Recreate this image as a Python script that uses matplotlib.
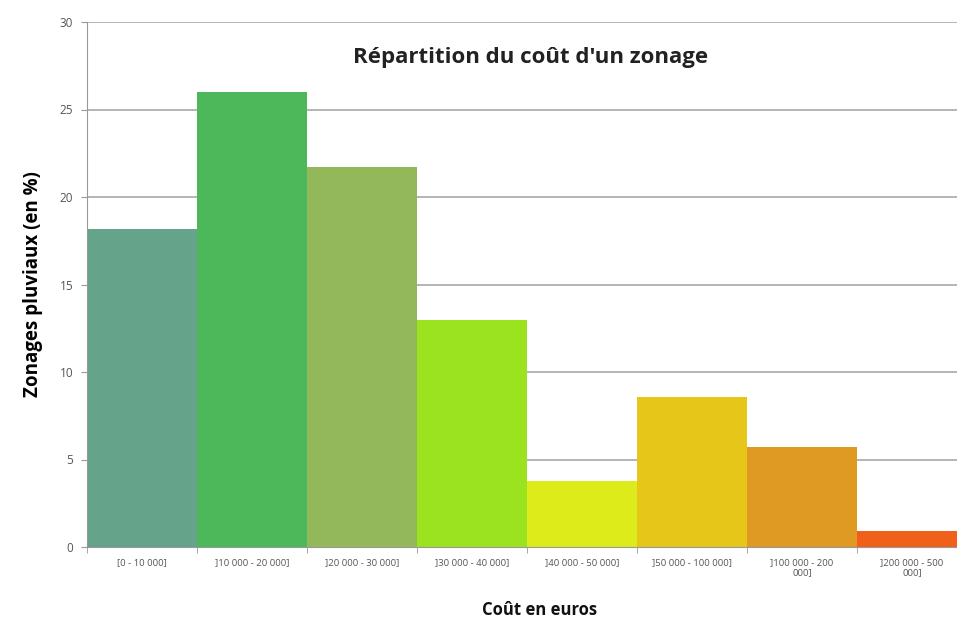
import matplotlib
matplotlib.use("Agg")
from matplotlib import pyplot as plt
import numpy as np

# données
categories = ["[0 - 10 000]", "]10 000 - 20 000]", "]20 000 - 30 000]", "]30 000 - 40 000]",
              "]40 000 - 50 000]", "]50 000 - 100 000]", "]100 000 - 200\n000]", "]200 000 - 500\n000]"]
valeurs = [18.2, 26.0, 21.7, 13.0, 3.8, 8.6, 5.7, 0.9]
couleurs = ["#65A38A", "#4DB85A", "#92B85A", "#9BE31E", "#DDEB1A", "#E6C619", "#DE9A22", "#F0601A"]

matplotlib.rc("font", family=["Open Sans", "DejaVu Sans"])

fig = plt.figure(figsize=(9.57, 6.22), dpi=100)
ax = fig.add_axes([87/957, 75/622, 880/957, 525/622])

x = np.arange(len(valeurs))
ax.bar(x, valeurs, width=1.0, color=couleurs, zorder=2)

ax.set_xlim(-0.5, len(valeurs) - 0.5)
ax.set_ylim(0, 30)
ax.set_yticks(range(0, 31, 5))
ax.yaxis.grid(True, color="#A8A8A8", linewidth=1.2, zorder=0)

ax.set_xticks(x)
ax.set_xticklabels(categories, fontsize=6.8, color="#555555", linespacing=1.1)
ax.set_xticks(np.arange(-0.5, len(valeurs), 1), minor=True)
ax.tick_params(axis="x", which="major", length=0, pad=8)
ax.tick_params(axis="x", which="minor", length=4, color="#999999")
ax.tick_params(axis="y", length=4, color="#999999", labelsize=8.5, labelcolor="#555555", pad=6)

for s in ["top", "right"]:
    ax.spines[s].set_visible(False)
ax.spines["left"].set_color("#999999")
ax.spines["bottom"].set_color("#999999")

ax.set_ylabel("Zonages pluviaux (en %)", fontsize=13.5, fontweight="bold", labelpad=12)
ax.text(540/957, 1 - 610/622, "Coût en euros", transform=fig.transFigure,
        fontsize=12, fontweight="bold", ha="center", va="center", color="#111111")
ax.text(531/957, 1 - 57/622, "Répartition du coût d'un zonage", transform=fig.transFigure,
        fontsize=16, fontweight="bold", ha="center", va="center", color="#222222")

fig.savefig("out.png", dpi=100)
